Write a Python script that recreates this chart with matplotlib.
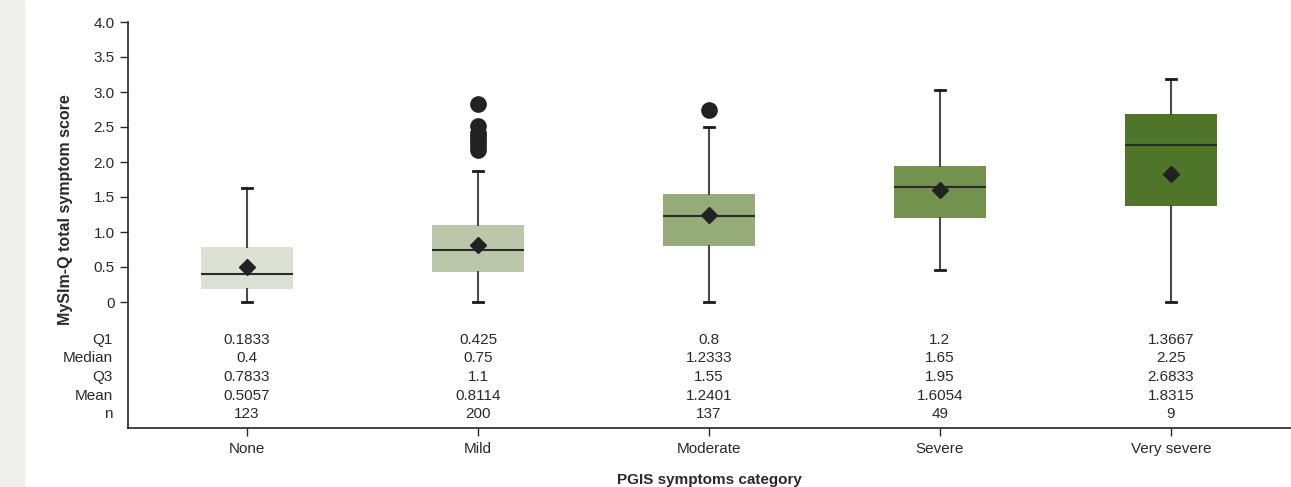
import matplotlib.pyplot as plt
from matplotlib.patches import Rectangle

plt.rcParams['font.family'] = ['Liberation Sans', 'DejaVu Sans']

# --- datos ---
categorias = ["None", "Mild", "Moderate", "Severe", "Very severe"]
q1 = [0.1833, 0.425, 0.8, 1.2, 1.3667]
mediana = [0.4, 0.75, 1.2333, 1.65, 2.25]
q3 = [0.7833, 1.1, 1.55, 1.95, 2.6833]
media = [0.5057, 0.8114, 1.2401, 1.6054, 1.8315]
n = [123, 200, 137, 49, 9]
bigote_inf = [0.0, 0.0, 0.0, 0.46, 0.0]
bigote_sup = [1.63, 1.87, 2.50, 3.03, 3.18]
atipicos = [[], [2.83, 2.52, 2.42, 2.37, 2.32, 2.27, 2.22, 2.17], [2.74], [], []]
colores = ["#dde1d3", "#bbc7a9", "#95ab78", "#72924e", "#4f7528"]

filas = ["Q1", "Median", "Q3", "Mean", "n"]
tabla = [q1, mediana, q3, media, n]

TXT = "#2a2a2a"
FS = 11

fig = plt.figure(figsize=(12.91, 4.87), dpi=100)
fig.patches.append(Rectangle((0, 0), 24 / 1291, 1, transform=fig.transFigure,
                             color="#efefed", zorder=0))
ax = fig.add_axes([128 / 1291, 1 - 428 / 487, 1 - 128 / 1291, (428 - 22) / 487])

stats = []
for i in range(len(categorias)):
    stats.append(dict(med=mediana[i], q1=q1[i], q3=q3[i], whislo=bigote_inf[i],
                      whishi=bigote_sup[i], fliers=atipicos[i], mean=media[i]))

pos = list(range(len(categorias)))
bp = ax.bxp(stats, positions=pos, widths=0.4, patch_artist=True, showmeans=True,
            showfliers=True,
            boxprops=dict(linewidth=0),
            medianprops=dict(color="#2b2b2b", linewidth=1.5),
            whiskerprops=dict(color="#4a4a4a", linewidth=1.5),
            capprops=dict(color="#1a1a1a", linewidth=2),
            capwidths=0.04,
            meanprops=dict(marker="D", markerfacecolor="#222222",
                           markeredgecolor="#222222", markersize=8),
            flierprops=dict(marker="o", markerfacecolor="#222222",
                            markeredgecolor="#222222", markersize=11))
for caja, c in zip(bp["boxes"], colores):
    caja.set_facecolor(c)

ax.set_xlim(-0.515, 4.52)
ax.set_ylim(-1.8, 4.0)
ax.set_yticks([0, 0.5, 1.0, 1.5, 2.0, 2.5, 3.0, 3.5, 4.0])
ax.set_yticklabels(["0", "0.5", "1.0", "1.5", "2.0", "2.5", "3.0", "3.5", "4.0"])
ax.set_xticks(pos)
ax.set_xticklabels(categorias)
ax.tick_params(axis="both", labelsize=FS, colors=TXT, length=6, width=1)
ax.tick_params(axis="x", pad=4)
for s in ["top", "right"]:
    ax.spines[s].set_visible(False)
for s in ["left", "bottom"]:
    ax.spines[s].set_color("#222222")
    ax.spines[s].set_linewidth(1.2)

# tabla de estadisticos bajo las cajas
ys = [-0.54, -0.80, -1.07, -1.34, -1.60]
for fila, vals, y in zip(filas, tabla, ys):
    ax.text(-0.58, y, fila, ha="right", va="center", fontsize=FS,
            color=TXT, clip_on=False)
    for i, v in enumerate(vals):
        ax.text(i, y, str(v), ha="center", va="center", fontsize=FS, color=TXT)

ax.set_ylabel("MySlm-Q total symptom score", fontsize=11.5, fontweight="bold",
              color=TXT)
ax.yaxis.set_label_coords(-0.047, 0.537)
ax.set_xlabel("PGIS symptoms category", fontsize=11, fontweight="bold",
              color=TXT, labelpad=12)

plt.savefig("out.png", dpi=100)
